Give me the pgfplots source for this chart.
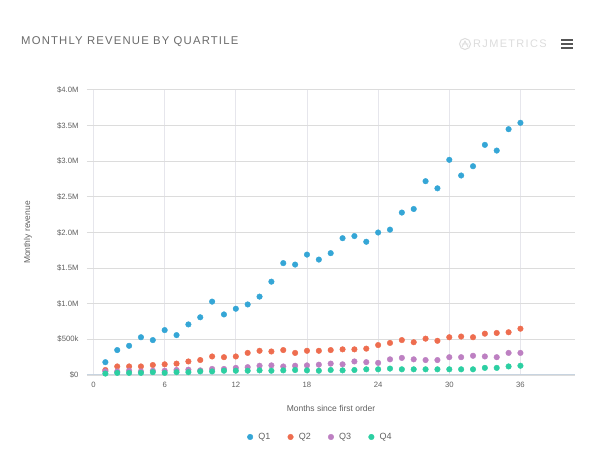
\documentclass[border=0pt]{standalone}
\usepackage{pgfplots}
\pgfplotsset{compat=1.18}
\usepackage{fontspec}
\setmainfont{Liberation Sans}
\newfontfamily\titlefont[LetterSpace=10.5]{Liberation Sans}
\newfontfamily\logofont[LetterSpace=12]{Liberation Sans}
\definecolor{qone}{HTML}{35A6D6}
\definecolor{qtwo}{HTML}{EE6D4F}
\definecolor{qthree}{HTML}{BD80C2}
\definecolor{qfour}{HTML}{2CCFA2}
\definecolor{titlegray}{HTML}{6A6A6A}
\definecolor{ticklab}{HTML}{606060}
\definecolor{hgrid}{HTML}{DCDCDC}
\definecolor{vgrid}{HTML}{E6E6EC}
\definecolor{axisblue}{HTML}{C8D4E0}
\definecolor{logogray}{HTML}{DCDCDC}
\definecolor{burger}{HTML}{555555}

\pgfplotstableread{
m v
1 0.18
2 0.35
3 0.41
4 0.53
5 0.49
6 0.63
7 0.56
8 0.71
9 0.81
10 1.03
11 0.85
12 0.93
13 0.99
14 1.10
15 1.31
16 1.57
17 1.55
18 1.69
19 1.62
20 1.71
21 1.92
22 1.95
23 1.87
24 2.00
25 2.04
26 2.28
27 2.33
28 2.72
29 2.62
30 3.02
31 2.80
32 2.93
33 3.23
34 3.15
35 3.45
36 3.54
}\qone

\pgfplotstableread{
m v
1 0.07
2 0.12
3 0.12
4 0.12
5 0.14
6 0.15
7 0.16
8 0.19
9 0.21
10 0.26
11 0.25
12 0.26
13 0.31
14 0.34
15 0.33
16 0.35
17 0.31
18 0.34
19 0.34
20 0.35
21 0.36
22 0.36
23 0.37
24 0.42
25 0.45
26 0.49
27 0.46
28 0.51
29 0.48
30 0.53
31 0.54
32 0.53
33 0.58
34 0.59
35 0.60
36 0.65
}\qtwo

\pgfplotstableread{
m v
1 0.05
2 0.05
3 0.06
4 0.05
5 0.06
6 0.06
7 0.07
8 0.075
9 0.065
10 0.085
11 0.085
12 0.10
13 0.11
14 0.13
15 0.135
16 0.12
17 0.13
18 0.135
19 0.145
20 0.16
21 0.15
22 0.19
23 0.18
24 0.17
25 0.22
26 0.24
27 0.22
28 0.21
29 0.21
30 0.25
31 0.25
32 0.27
33 0.26
34 0.25
35 0.31
36 0.31
}\qthree

\pgfplotstableread{
m v
1 0.02
2 0.03
3 0.03
4 0.03
5 0.04
6 0.03
7 0.04
8 0.04
9 0.05
10 0.05
11 0.06
12 0.06
13 0.06
14 0.065
15 0.06
16 0.065
17 0.07
18 0.065
19 0.06
20 0.07
21 0.065
22 0.07
23 0.08
24 0.08
25 0.09
26 0.08
27 0.08
28 0.08
29 0.08
30 0.08
31 0.08
32 0.08
33 0.10
34 0.10
35 0.12
36 0.13
}\qfour

\begin{document}
\begin{tikzpicture}[x=1pt,y=1pt]
\path (0,0) rectangle (600,458);
% title
\node[anchor=west, text=titlegray, inner sep=0, font=\titlefont\fontsize{11.3}{13}\selectfont] at (21,416) {MONTHLY REVENUE BY QUARTILE};
% logo
\draw[logogray, line width=1pt] (465,414) circle (5.5);
\draw[logogray, line width=0.8pt] (462,411) -- (465,417) -- (468,411) (461.5,414) -- (468.5,414);
\node[anchor=west, text=logogray, inner sep=0, font=\logofont\fontsize{11}{13}\selectfont] at (473,414) {RJMETRICS};
% hamburger
\foreach \yy in {417.5,413.5,409.5} {\fill[burger] (561,\yy-1) rectangle (573,\yy+1);}

\begin{axis}[
  at={(87pt,83pt)}, anchor=south west,
  scale only axis, width=488pt, height=285pt,
  xmin=-0.55, xmax=40.6, ymin=0, ymax=4,
  axis line style={draw=none},
  xtick={0,6,...,36},
  ytick={0,0.5,...,4},
  yticklabels={\$0,\$500k,\$1.0M,\$1.5M,\$2.0M,\$2.5M,\$3.0M,\$3.5M,\$4.0M},
  major tick length=0pt,
  grid=major,
  major x grid style={draw=vgrid, line width=0.7pt},
  major y grid style={draw=hgrid, line width=1pt},
  tick label style={text=ticklab, font=\fontsize{7.7}{9}\selectfont},
  /pgf/number format/assume math mode=true,
  yticklabel style={xshift=-5pt},
  xticklabel style={yshift=-4pt},
  xlabel={Months since first order},
  ylabel={Monthly revenue},
  label style={text=ticklab, font=\fontsize{8.5}{10}\selectfont},
  xlabel style={at={(axis description cs:0.5,-0.1158)}, anchor=center},
  ylabel style={at={(axis description cs:-0.121,0.5)}, anchor=center, rotate=0},
  legend columns=4,
  legend style={at={(axis description cs:0.478,-0.2175)}, anchor=center, draw=none, fill=none,
    font=\fontsize{9}{11}\selectfont, text=ticklab,
    /tikz/every even column/.append style={column sep=15pt}},
  legend image code/.code={\path (-3pt,0pt) (6pt,0pt); \draw[#1] plot coordinates {(0pt,0pt)};},
  every axis plot/.append style={only marks, mark=*, mark size=2.8pt},
]
\draw[axisblue, line width=1pt] (rel axis cs:0,0) -- (rel axis cs:1,0);
\addplot[color=qone, mark options={draw=qone, fill=qone}] table[x=m,y=v] {\qone};
\addlegendentry{Q1}
\addplot[color=qtwo, mark options={draw=qtwo, fill=qtwo}] table[x=m,y=v] {\qtwo};
\addlegendentry{Q2}
\addplot[color=qthree, mark options={draw=qthree, fill=qthree}] table[x=m,y=v] {\qthree};
\addlegendentry{Q3}
\addplot[color=qfour, mark options={draw=qfour, fill=qfour}] table[x=m,y=v] {\qfour};
\addlegendentry{Q4}
\end{axis}
\end{tikzpicture}
\end{document}
